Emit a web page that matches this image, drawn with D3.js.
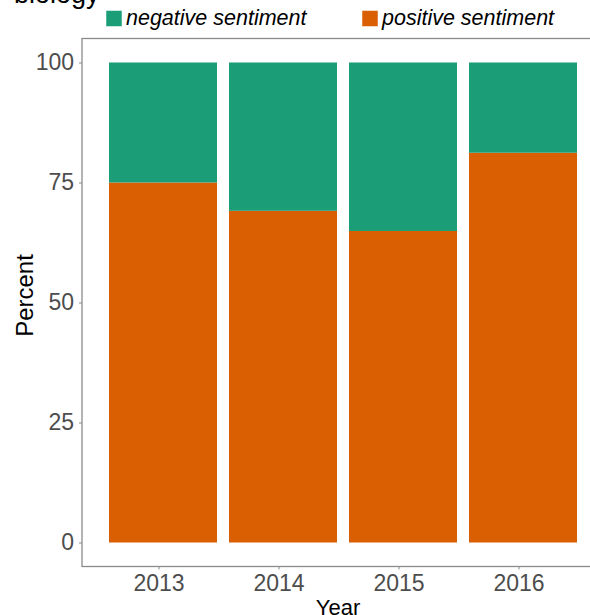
<!DOCTYPE html>
<html><head><meta charset="utf-8">
<script src="https://cdn.jsdelivr.net/npm/d3@7"></script>
<style>body{margin:0;background:#fff;} svg{display:block;font-family:"Liberation Sans",Arial,sans-serif;}</style>
</head><body>
<svg id="c" width="590" height="615"></svg>
<script>
const years = ["2013","2014","2015","2016"];
const positive = [75.0, 69.1, 64.9, 81.2];
const negative = positive.map(v => +(100 - v).toFixed(1));
const seriesNames = ["negative sentiment","positive sentiment"];
const colors = ["#1b9e77","#d95f02"];
const yTicks = [0,25,50,75,100];

const FONT = "Liberation Sans, Arial, sans-serif";
const svg = d3.select("#c");
const panel = {left:82, right:596, top:38.5, bottom:566.5};
const x = d3.scaleBand().domain(years).range([103,583]).paddingInner(0.1).paddingOuter(0.05);
const y = d3.scaleLinear().domain([0,100]).range([542.5,62.5]);

const rows = years.map((yr,i)=>({year:yr, positive:positive[i], negative:negative[i]}));
const stack = d3.stack().keys(["positive","negative"])(rows);
const colorOf = {positive:colors[1], negative:colors[0]};

svg.append("g").selectAll("g").data(stack).join("g")
  .attr("fill", d=>colorOf[d.key])
  .selectAll("rect").data(d=>d).join("rect")
  .attr("x", d=>x(d.data.year))
  .attr("width", x.bandwidth())
  .attr("y", d=>y(d[1]))
  .attr("height", d=>y(d[0])-y(d[1]));

// panel border
svg.append("rect").attr("x",panel.left).attr("y",panel.top)
  .attr("width",panel.right-panel.left).attr("height",panel.bottom-panel.top)
  .attr("fill","none").attr("stroke","#8a8a8a").attr("stroke-width",1.3);

// y axis
const yAxis = d3.axisLeft(y).tickValues(yTicks).tickSize(3).tickPadding(5);
const gy = svg.append("g").attr("transform",`translate(${panel.left},0)`).call(yAxis);
gy.select(".domain").remove();
gy.selectAll(".tick line").attr("stroke","#8a8a8a");
gy.selectAll(".tick text").attr("fill","#4d4d4d").attr("font-size",23).attr("font-family",FONT);

// x axis (ticks sit slightly left of bar centres in the reference)
const xAxis = d3.axisBottom(x).tickSize(3).tickPadding(5);
const gx = svg.append("g").attr("transform",`translate(-4,${panel.bottom})`).call(xAxis);
gx.select(".domain").remove();
gx.selectAll(".tick line").attr("stroke","#8a8a8a");
gx.selectAll(".tick text").attr("fill","#4d4d4d").attr("font-size",23).attr("font-family",FONT);

// axis titles
svg.append("text").attr("x",338).attr("y",615).attr("text-anchor","middle")
  .attr("font-size",22).attr("fill","#000").text("Year");
svg.append("text").attr("transform","translate(33,295.5) rotate(-90)").attr("text-anchor","middle")
  .attr("font-size",24).attr("fill","#000").text("Percent");

// title (cut off at top, as in the reference)
svg.append("text").attr("x",14).attr("y",3).attr("font-size",27).attr("fill","#000").text("biology");

// legend
const legX = [106, 362];
seriesNames.forEach((n,i)=>{
  svg.append("rect").attr("x",legX[i]).attr("y",10.5).attr("width",16).attr("height",16)
    .attr("fill",colors[i]).attr("stroke","#fff").attr("stroke-width",0.5);
  svg.append("text").attr("x",legX[i]+20).attr("y",25).attr("font-size",21.5)
    .attr("font-style","italic").attr("fill","#000").text(n);
});
</script>
</body></html>
